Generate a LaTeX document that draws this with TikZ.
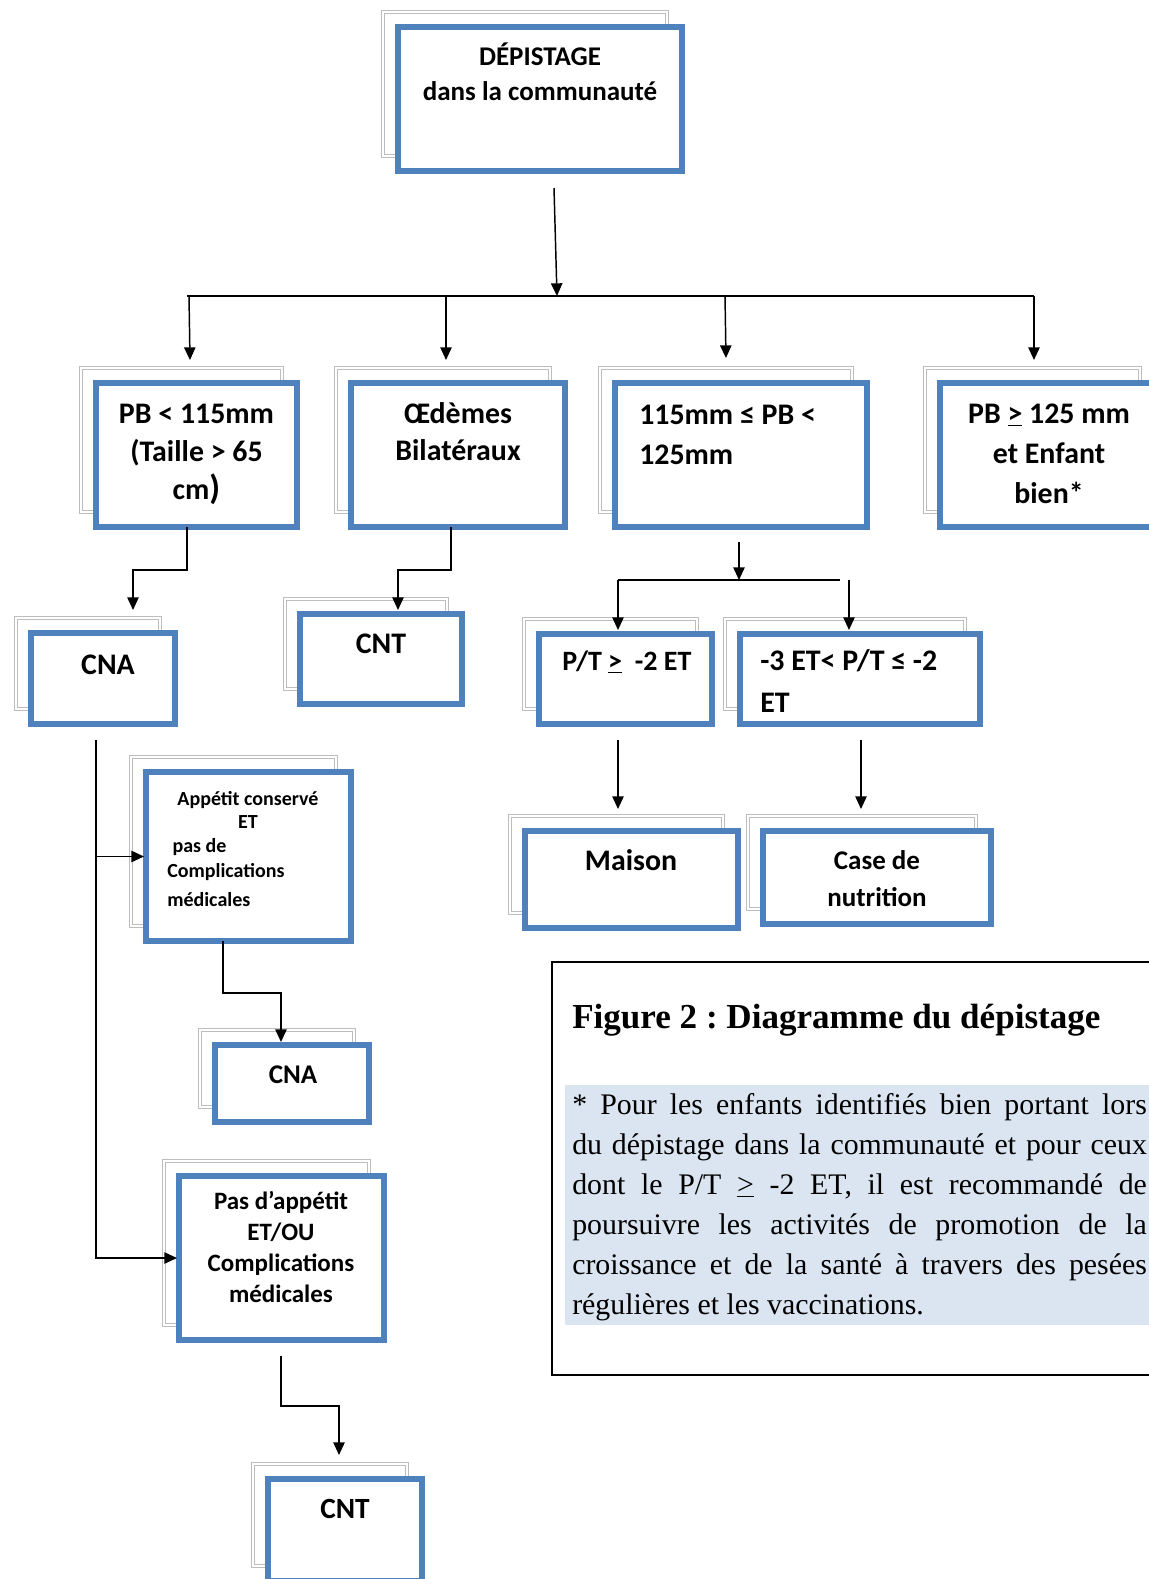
\documentclass[tikz,border=0pt]{standalone}
\usepackage{fontspec}
\setmainfont{Carlito}
\newfontfamily\romain{Liberation Serif}
\usetikzlibrary{arrows.meta,calc}
\definecolor{bleucadre}{HTML}{4F81BD}
\definecolor{grisombre}{HTML}{BDBDBD}
\definecolor{fondnote}{HTML}{DBE5F1}
\frenchspacing
\newcommand\taille[2]{\fontsize{#1}{#2}\selectfont}
% the font's own interword space, fixed, inside aligned nodes
\newcommand\espnat{\spaceskip=\fontdimen2\font\xspaceskip=\fontdimen2\font\relax}
% one justified line of the note (stretchable spaces)
\newcommand\ligne[1]{\makebox[431pt][s]{\spaceskip=0pt\xspaceskip=0pt\relax #1}}
% frame with its grey double-lined shadow: name, x1, y1, x2, y2 (px)
\newcommand\cadre[5]{%
  \draw[ombre] ({#2-15},{#3-15}) rectangle ({#4-15},{#5-15});
  \node[cadrebleu, minimum width={(#4-#2)*0.75pt}, minimum height={(#5-#3)*0.75pt}]
    (#1) at ({(#2+#4)/2},{(#3+#5)/2}) {};
}
\begin{document}
\begin{tikzpicture}[x=0.75pt,y=-0.75pt,
  ombre/.style={draw=grisombre, line width=1.4pt, double=white, double distance=0.9pt},
  cadrebleu/.style={draw=bleucadre, line width=4.7pt, fill=white, inner sep=0pt, outer sep=0pt},
  etiq/.style={inner sep=0pt, text width=320pt, align=center, anchor=base},
  etiqg/.style={inner sep=0pt, text width=320pt, align=left, anchor=base west},
  trait/.style={line width=1.1pt, black},
  fleche/.style={trait, -{Triangle[length=9.5pt,width=8.5pt]}},
]
\useasboundingbox (0,0) rectangle (1149,1579);
\clip (0,0) rectangle (1149,1579);

% ---- frames ----
\cadre{dep}{398}{27}{682}{171}
\cadre{pbA}{96}{383}{297}{527}
\cadre{oed}{351}{383}{565}{527}
\cadre{pbB}{615}{383}{867}{527}
\cadre{pbC}{940}{383}{1155}{527}
\cadre{cnaA}{31}{633}{175}{724}
\cadre{cntA}{300}{614}{462}{704}
\cadre{ptA}{539}{634}{712}{724}
\cadre{ptB}{740}{634}{980}{724}
\cadre{maison}{525}{831}{738}{928}
\cadre{case}{763}{831}{991}{924}
\cadre{app}{146}{772}{351}{941}
\cadre{cnaB}{215}{1045}{369}{1122}
\cadre{pas}{179}{1176}{384}{1340}
\cadre{cntB}{268}{1479}{422}{1581}

% ---- labels ----
\node[etiq, font=\bfseries\taille{20.25}{26.25}] (tdep) at (540,65.5) {\espnat DÉPISTAGE\\dans la communauté};
\node[etiq, font=\bfseries\taille{22.4}{28.5}] (tpbA) at (196.5,423) {\espnat PB < 115mm\\(Taille > 65\\cm{\taille{26}{28})}};
\node[etiq, font=\bfseries\taille{22.4}{27.75}] (toed) at (458,423) {Œdèmes\\Bilatéraux};
\node[etiqg, font=\bfseries\taille{22.4}{30}] (tpbB) at (639,424) {\espnat 115mm ≤ PB <\\125mm};
\node[etiq, font=\bfseries\taille{22.4}{30}] (tpbC) at (1049,423) {\espnat PB \underline{>} 125 mm\\et Enfant\\bien*};
\node[etiq, font=\bfseries\taille{22.4}{28}] (tcnaA) at (108,674) {CNA};
\node[etiq, font=\bfseries\taille{22.4}{28}] (tcntA) at (381,653) {CNT};
\node[etiqg, font=\bfseries\taille{21}{28}] (tptA) at (562,670) {\espnat P/T \underline{>}\ \ -2 ET};
\node[etiqg, font=\bfseries\taille{22.4}{31.5}] (tptB) at (760,670) {\espnat -3 ET< P/T ≤ -2\\ET};
\node[etiq, font=\bfseries\taille{22.4}{28}] (tmaison) at (631,870) {Maison};
\node[etiq, font=\bfseries\taille{20.25}{27.75}] (tcase) at (877,869) {\espnat Case de\\nutrition};
\node[etiq, font=\bfseries\taille{15}{17.25}] (tappA) at (248,805) {\espnat Appétit conservé\\ET};
\node[etiqg, font=\bfseries\taille{15}{18.75}] (tappB) at (167,852) {\espnat\hspace*{4pt}pas de\\Complications\\[3pt]médicales};
\node[etiq, font=\bfseries\taille{20.25}{24}] (tcnaB) at (293,1083) {CNA};
\node[etiq, font=\bfseries\taille{18.75}{23.25}] (tpas) at (281,1209) {\espnat Pas d’appétit\\ET/OU\\Complications\\médicales};
\node[etiq, font=\bfseries\taille{22}{26}] (tcntB) at (345,1518) {CNT};

% ---- connectors ----
\coordinate (hautA) at ($(dep.south)+(14,17)$);
\coordinate (barreG) at (187,296);
\coordinate (barreD) at (1034,296);
\coordinate (barreM) at (557,296);
\draw[fleche] (hautA) -- (barreM);
\draw[trait] (barreG) -- (barreD);
\draw[fleche] ($(pbA.north)+(-7.5,-87)$) -- ($(pbA.north)+(-6.5,-23)$);
\draw[fleche] ($(oed.north)+(-12,-87)$) -- ($(oed.north)+(-12,-23)$);
\draw[fleche] ($(pbB.north)+(-16,-87)$) -- ($(pbB.north)+(-15,-25)$);
\draw[fleche] ($(pbC.north)+(-13.5,-87)$) -- ($(pbC.north)+(-13.5,-23)$);

\draw[fleche] ($(pbA.south)+(-9.5,0)$) -- ++(0,43) -| ($(cnaA.north)+(30,-23)$);
\draw[fleche] ($(oed.south)+(-7,0)$) -- ++(0,43) -| ($(cntA.north)+(17,-4)$);

\coordinate (splitG) at (618,580);
\coordinate (splitD) at (840,580);
\draw[fleche] ($(pbB.south)+(-2,15)$) -- ++(0,38);
\draw[trait] (splitG) -- (splitD);
\draw[fleche] (splitG) -- ($(ptA.north)+(-7.5,-4)$);
\draw[fleche] ($(ptB.north)+(-11,-54)$) -- ($(ptB.north)+(-11,-4)$);
\draw[fleche] ($(ptA.south)+(-7.5,16)$) -- ($(maison.north)+(-13.5,-22)$);
\draw[fleche] ($(ptB.south)+(1,16)$) -- ($(case.north)+(-16,-22)$);

\coordinate (tronc) at ($(cnaA.south)+(-7,16)$);
\draw[fleche, shorten >=1.5pt] (tronc) |- (app.west);
\draw[fleche, shorten >=1.5pt] (tronc) |- (pas.west);
\draw[fleche] ($(app.south)+(-25.5,0)$) -- ++(0,52) -| ($(cnaB.north)+(-11,-3)$);
\draw[fleche] ($(pas.south)+(-0.5,16)$) -- ++(0,50) -| ($(cntB.north)+(-6,-24)$);

% ---- legend frame ----
\draw[line width=1.1pt] (552,962) rectangle (1165,1375);
\fill[fondnote] (565,1085) rectangle (1165,1325);
\node[anchor=base west, inner sep=0pt, font=\romain\bfseries\taille{26.3}{30}] (titre) at (572,1028)
  {Figure 2 : Diagramme du dépistage};
\node[anchor=base west, inner sep=0pt, text width=440pt, align=left, font=\romain\taille{22.4}{30}] (note) at (572,1114) {%
\ligne{* Pour les enfants identifiés bien portant lors}\\
\ligne{du dépistage dans la communauté et pour ceux}\\
\ligne{dont le P/T \underline{>} -2 ET, il est recommandé de}\\
\ligne{poursuivre les activités de promotion de la}\\
\ligne{croissance et de la santé à travers des pesées}\\
\espnat régulières et les vaccinations.};
\end{tikzpicture}
\end{document}
